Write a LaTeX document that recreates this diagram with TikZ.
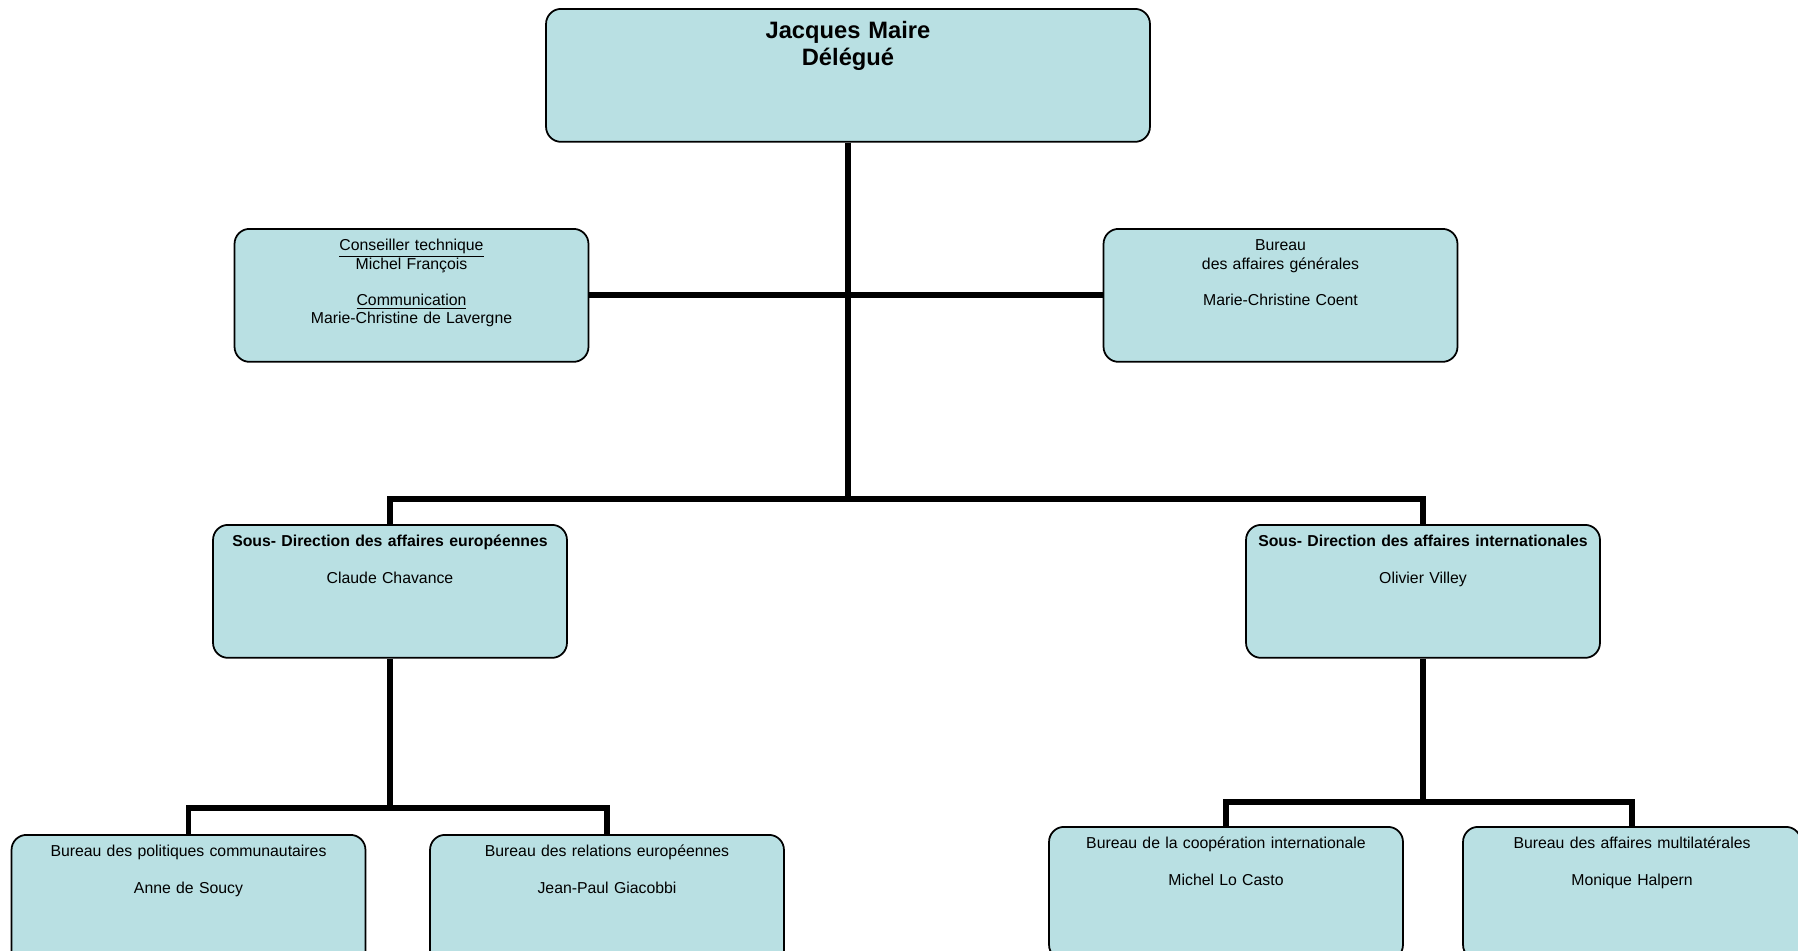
\documentclass[tikz,border=0pt]{standalone}
\usepackage{fontspec}
\setmainfont{Liberation Sans}
\usetikzlibrary{positioning}
\definecolor{boxfill}{HTML}{B9E0E3}

\begin{document}
\begin{tikzpicture}[x=0.02cm, y=-0.02cm,
      unit/.style={draw=black, line width=1pt, fill=boxfill, rounded corners=0.3cm, anchor=north,
                   inner sep=0pt, text width=7.08cm, align=center, text height=0.44cm, text depth=2.22cm,
                   font=\fontsize{9}{10.4}\selectfont},
      boss/.style={unit, text width=12.08cm, text height=0.6cm, text depth=2.06cm,
                   font=\fontsize{13.5}{15.3}\selectfont\bfseries},
      link/.style={line width=3.4pt, draw=black}
    ]
    \useasboundingbox (0,0) rectangle (1798,950);
    \node[boss] (chef) at (848,8) {Jacques Maire\\Délégué};
    \node[unit] (conseil) at (411.5,228) {\underline{Conseiller technique}\\Michel François\\[10.4pt]
                                          \underline{Communication}\\Marie-Christine de Lavergne};
    \node[unit] (bag) at (1280.5,228) {Bureau\\des affaires générales\\[10.4pt]Marie-Christine Coent};
    \node[unit] (sde) at (390,524) {\textbf{Sous- Direction des affaires européennes}\\[10.4pt]Claude Chavance};
    \node[unit] (sdi) at (1423,524) {\textbf{Sous- Direction des affaires internationales}\\[10.4pt]Olivier Villey};
    \node[unit] (bpc) at (188.5,834) {Bureau des politiques communautaires\\[10.4pt]Anne de Soucy};
    \node[unit] (bre) at (607,834) {Bureau des relations européennes\\[10.4pt]Jean-Paul Giacobbi};
    \node[unit] (bci) at (1226,826) {Bureau de la coopération internationale\\[10.4pt]Michel Lo Casto};
    \node[unit, text width=6.76cm] (bam) at (1632,826) {Bureau des affaires multilatérales\\[10.4pt]Monique Halpern};
    \coordinate (top) at (848,499);
    \coordinate (left) at (390,808);
    \coordinate (right) at (1423,802);
    \draw[link] (chef.south) -- (top);
    \draw[link] (conseil.east) -- (bag.west);
    \draw[link] (sde.north) |- (top) -| (sdi.north);
    \draw[link] (sde.south) -- (left);
    \draw[link] (bpc.north) |- (left) -| (bre.north);
    \draw[link] (sdi.south) -- (right);
    \draw[link] (bci.north) |- (right) -| (bam.north);
  \end{tikzpicture}
\end{document}
